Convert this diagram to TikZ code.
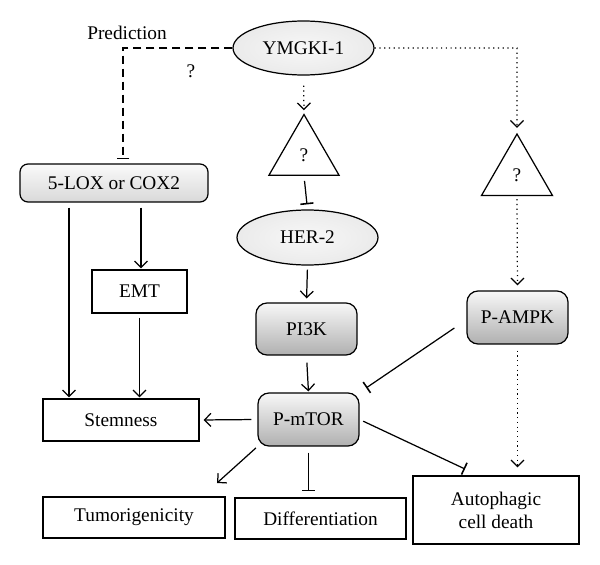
\documentclass[tikz,border=0pt]{standalone}
\usepackage{fontspec}
\setmainfont{Liberation Serif}
\usetikzlibrary{arrows.meta,shapes.geometric}
\pgfdeclareradialshading{ovalshade}{\pgfpoint{0bp}{0bp}}{color(0bp)=(gray!6); color(30bp)=(gray!18); color(50bp)=(gray!42); color(75bp)=(gray!42)}
\tikzset{
 box/.style={draw,line width=0.7pt,inner sep=0pt,align=center},
 rbox/.style={box,rounded corners=2.2mm,top color=gray!6,bottom color=gray!62},
 oval/.style={box,ellipse,shading=ovalshade},
 tri/.style={draw,line width=0.7pt,regular polygon,regular polygon sides=3,inner sep=0pt,minimum size=1.62cm},
 arr/.style={line width=0.7pt,-{Straight Barb[length=1.3mm,width=2.6mm]}},
 inh/.style={line width=0.7pt,-{Bar[width=2.6mm,line width=0.9pt]}}
}
\begin{document}
\begin{tikzpicture}[x=0.02cm,y=-0.02cm,font=\fontsize{11pt}{13pt}\selectfont]
 \useasboundingbox[fill=white] (0,0) rectangle (600,565);
 % top
 \node[oval,minimum width=2.82cm,minimum height=1.08cm] (ymgki) at (303.5,48) {YMGKI-1};
 \node (pred) at (127,33) {Prediction};
 \node (qpred) at (191,71) {?};
 \node[tri] (tri1) at (304,155) {?};
 \node[tri,minimum size=1.64cm] (tri2) at (517,175) {?};
 % left branch
 \node[box,rounded corners=1.6mm,top color=gray!4,bottom color=gray!30,minimum width=3.76cm,minimum height=0.76cm] (lox) at (114,183) {5-LOX or COX2};
 \node[box,minimum width=1.9cm,minimum height=0.86cm] (emt) at (139.5,291.5) {EMT};
 \node[box,minimum width=3.12cm,minimum height=0.84cm] (stem) at (121,420) {Stemness};
 % middle
 \node[oval,minimum width=2.82cm,minimum height=1.1cm] (her2) at (307.5,237.5) {HER-2};
 \node[rbox,minimum width=2.02cm,minimum height=1.04cm] (pi3k) at (306.5,329) {PI3K};
 \node[rbox,minimum width=2.02cm,minimum height=1.06cm] (mtor) at (308.5,419.5) {P-mTOR};
 \node[rbox,minimum width=2.02cm,minimum height=1.06cm] (ampk) at (517.5,317.5) {P-AMPK};
 % bottom
 \node[box,minimum width=3.64cm,minimum height=0.82cm] (tumor) at (134,517.5) {Tumorigenicity};
 \node[box,minimum width=3.42cm,minimum height=0.82cm] (diff) at (320.5,518.5) {Differentiation};
 \node[box,minimum width=3.32cm,minimum height=1.36cm] (auto) at (496,510) {Autophagic\\cell death};
 \coordinate (predcorner) at (123,48);
 \coordinate (ampkcorner) at (517,48);
 \coordinate (tumtip) at (217,483);
 \coordinate (autobar) at (465,469);
 % connectors
 \draw[inh,dash pattern=on 1.6mm off 1mm,shorten >=0.08cm] (ymgki.west) -- (predcorner) -- (predcorner |- lox.north);
 \draw[arr,dotted,shorten <=0.2cm,shorten >=0.06cm] (ymgki.south) -- (tri1.north);
 \draw[arr,dotted,shorten >=0.1cm] (ymgki.east) -- (ampkcorner) -- (tri2.north);
 \draw[inh,shorten <=0.1cm,shorten >=0.1cm] (tri1.south) -- (her2.north);
 \draw[arr,dotted,shorten <=0.06cm,shorten >=0.1cm] (tri2.south) -- (ampk.north);
 \draw[arr,shorten <=0.08cm,shorten >=0.08cm] (her2.south) -- (pi3k.north);
 \draw[arr,shorten <=0.14cm,shorten >=0.02cm] (pi3k.south) -- (mtor.north);
 \draw[arr,shorten <=0.1cm,shorten >=0.02cm] ([xshift=-0.9cm]lox.south) -- ([xshift=-0.9cm]lox.south |- stem.north);
 \draw[arr,shorten <=0.1cm,shorten >=0.02cm] ([xshift=0.54cm]lox.south) -- ([xshift=0.54cm]lox.south |- emt.north);
 \draw[arr,shorten <=0.08cm,shorten >=0.02cm] (emt.south) -- (emt.south |- stem.north);
 \draw[arr,shorten <=0.12cm,shorten >=0.08cm] (mtor.west) -- (stem.east);
 \draw[arr,shorten <=0.04cm] (mtor.south west) -- (tumtip);
 \draw[inh,shorten <=0.12cm,shorten >=0.12cm] (mtor.south) -- (mtor.south |- diff.north);
 \draw[inh,shorten <=0.08cm] (mtor.east) -- (autobar);
 \draw[inh,shorten >=0.16cm] ([shift={(-0.24cm,-0.21cm)}]ampk.west) -- (mtor.north east);
 \draw[arr,dotted,shorten <=0.12cm,shorten >=0.16cm] (ampk.south) -- (ampk.south |- auto.north);
\end{tikzpicture}
\end{document}
